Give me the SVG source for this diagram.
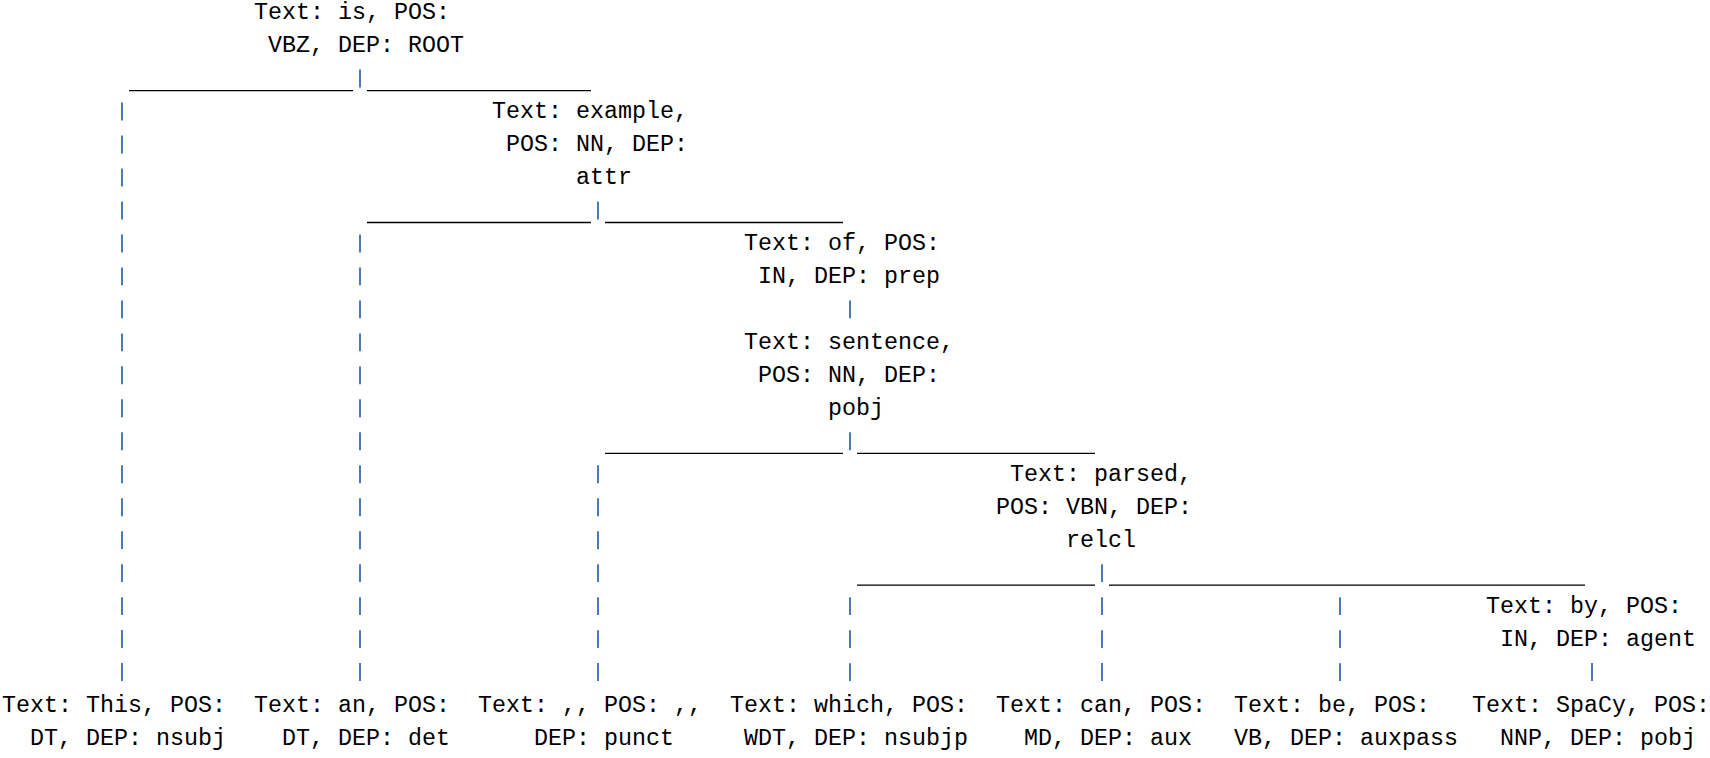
<svg xmlns="http://www.w3.org/2000/svg" width="1710" height="758" viewBox="0 0 1710 758">
<style>
  text { font-family: "Liberation Mono", "Courier New", monospace; font-size: 23.33px; fill: #000; white-space: pre; }
  .bar { fill: none; stroke: #1d5aa6; stroke-width: 1.6; }
  .under { fill: none; stroke: #000; stroke-width: 1.3; }
</style>
<rect width="1710" height="758" fill="#fff"/>
<g id="connectors">
  <path class="under" d="M129 90.6H353M367 90.6H591M367 222.5H591M605 222.5H843M605 453.3H843M857 453.3H1095M857 585.2H1095M1109 585.2H1585"/>
  <path class="bar" d="M122 102.6v17.9m0 15.07v17.9m0 15.07v17.9m0 15.07v17.9m0 15.07v17.9m0 15.07v17.9m0 15.07v17.9m0 15.07v17.9m0 15.07v17.9m0 15.07v17.9m0 15.07v17.9m0 15.07v17.9m0 15.07v17.9m0 15.07v17.9m0 15.07v17.9m0 15.07v17.9m0 15.07v17.9m0 15.07v17.9"/>
  <path class="bar" d="M360 69.6v17.9M360 234.5v17.9m0 15.07v17.9m0 15.07v17.9m0 15.07v17.9m0 15.07v17.9m0 15.07v17.9m0 15.07v17.9m0 15.07v17.9m0 15.07v17.9m0 15.07v17.9m0 15.07v17.9m0 15.07v17.9m0 15.07v17.9m0 15.07v17.9"/>
  <path class="bar" d="M598 201.5v17.9M598 465.3v17.9m0 15.07v17.9m0 15.07v17.9m0 15.07v17.9m0 15.07v17.9m0 15.07v17.9m0 15.07v17.9"/>
  <path class="bar" d="M850 300.4v17.9M850 432.3v17.9M850 597.2v17.9m0 15.07v17.9m0 15.07v17.9"/>
  <path class="bar" d="M1102 564.2v17.9m0 15.07v17.9m0 15.07v17.9m0 15.07v17.9"/>
  <path class="bar" d="M1340 597.2v17.9m0 15.07v17.9m0 15.07v17.9"/>
  <path class="bar" d="M1592 663.1v17.9"/>
</g>
<g id="node-is">
  <text x="254" y="19.3">Text: is, POS:</text>
  <text x="268" y="52.3">VBZ, DEP: ROOT</text>
</g>
<g id="node-example">
  <text x="492" y="118.2">Text: example,</text>
  <text x="506" y="151.2">POS: NN, DEP:</text>
  <text x="576" y="184.2">attr</text>
</g>
<g id="node-of">
  <text x="744" y="250.1">Text: of, POS:</text>
  <text x="758" y="283.1">IN, DEP: prep</text>
</g>
<g id="node-sentence">
  <text x="744" y="349.0">Text: sentence,</text>
  <text x="758" y="382.0">POS: NN, DEP:</text>
  <text x="828" y="414.9">pobj</text>
</g>
<g id="node-parsed">
  <text x="1010" y="480.9">Text: parsed,</text>
  <text x="996" y="513.9">POS: VBN, DEP:</text>
  <text x="1066" y="546.8">relcl</text>
</g>
<g id="node-by">
  <text x="1486" y="612.8">Text: by, POS:</text>
  <text x="1500" y="645.7">IN, DEP: agent</text>
</g>
<g id="node-this">
  <text x="2" y="711.7">Text: This, POS:</text>
  <text x="30" y="744.6">DT, DEP: nsubj</text>
</g>
<g id="node-an">
  <text x="254" y="711.7">Text: an, POS:</text>
  <text x="282" y="744.6">DT, DEP: det</text>
</g>
<g id="node-comma">
  <text x="478" y="711.7">Text: ,, POS: ,,</text>
  <text x="534" y="744.6">DEP: punct</text>
</g>
<g id="node-which">
  <text x="730" y="711.7">Text: which, POS:</text>
  <text x="744" y="744.6">WDT, DEP: nsubjp</text>
</g>
<g id="node-can">
  <text x="996" y="711.7">Text: can, POS:</text>
  <text x="1024" y="744.6">MD, DEP: aux</text>
</g>
<g id="node-be">
  <text x="1234" y="711.7">Text: be, POS:</text>
  <text x="1234" y="744.6">VB, DEP: auxpass</text>
</g>
<g id="node-spacy">
  <text x="1472" y="711.7">Text: SpaCy, POS:</text>
  <text x="1500" y="744.6">NNP, DEP: pobj</text>
</g>
</svg>
